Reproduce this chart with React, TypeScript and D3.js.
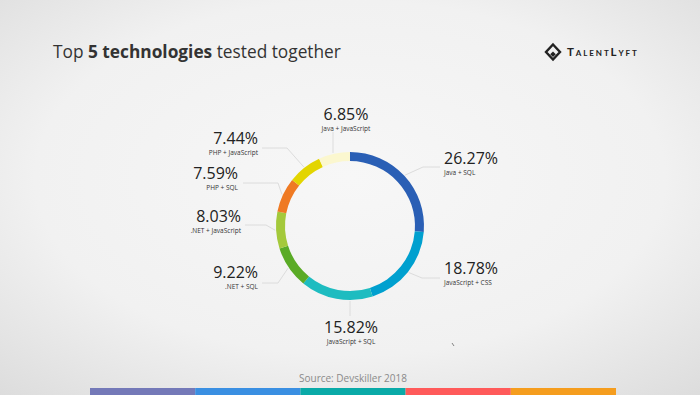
import React, { useRef, useEffect } from 'react';
import * as d3 from 'd3';

// Slices, clockwise from 12 o'clock
const combos = [
  'Java + SQL',
  'JavaScript + CSS',
  'JavaScript + SQL',
  '.NET + SQL',
  '.NET + JavaScript',
  'PHP + SQL',
  'PHP + JavaScript',
  'Java + JavaScript',
];
const shares = [26.27, 18.78, 15.82, 9.22, 8.03, 7.59, 7.44, 6.85];
const sliceColors = [
  '#2a5fb5',
  '#00a0cf',
  '#1ebcc0',
  '#5aab26',
  '#a4c93b',
  '#ef7a23',
  '#e3d500',
  '#fbf7cf',
];

// where each label sits and how its leader line bends
type LabelSpot = {
  x: number;
  y: number;
  anchor: 'start' | 'middle' | 'end';
  lineY: number;
  elbowX: number;
  endX: number;
  vertical?: boolean;
};
const labelSpots: LabelSpot[] = [
  { x: 444, y: 165, anchor: 'start', lineY: 167, elbowX: 423, endX: 440 },
  { x: 444, y: 275, anchor: 'start', lineY: 278, elbowX: 422, endX: 440 },
  { x: 351, y: 334, anchor: 'middle', lineY: 316, elbowX: 350, endX: 350, vertical: true },
  { x: 258, y: 279, anchor: 'end', lineY: 283, elbowX: 278, endX: 262 },
  { x: 241, y: 223, anchor: 'end', lineY: 225, elbowX: 266, endX: 245 },
  { x: 238, y: 180, anchor: 'end', lineY: 183, elbowX: 278, endX: 243 },
  { x: 258, y: 145, anchor: 'end', lineY: 148, elbowX: 287, endX: 262 },
  { x: 346, y: 121, anchor: 'middle', lineY: 132, elbowX: 333, endX: 333, vertical: true },
];

const stripeColors = ['#7479b8', '#3a8fe2', '#0aaaa8', '#ff5a5a', '#f59d1e'];

const App: React.FC = () => {
  const svgRef = useRef<SVGSVGElement | null>(null);

  useEffect(() => {
    if (!svgRef.current) return;
    d3.select(svgRef.current).selectAll('*').remove();

    const width = 700;
    const height = 395;
    const font = "'Open Sans', sans-serif";

    const svg = d3
      .select(svgRef.current)
      .attr('width', width)
      .attr('height', height);

    // soft grey backdrop
    const defs = svg.append('defs');
    const grad = defs
      .append('radialGradient')
      .attr('id', 'bg')
      .attr('cx', '50%')
      .attr('cy', '45%')
      .attr('r', '75%');
    grad.append('stop').attr('offset', '0%').attr('stop-color', '#f7f7f7');
    grad.append('stop').attr('offset', '60%').attr('stop-color', '#f1f1f1');
    grad.append('stop').attr('offset', '100%').attr('stop-color', '#dcdcdc');
    svg
      .append('rect')
      .attr('width', width)
      .attr('height', height)
      .attr('fill', 'url(#bg)');

    // title
    const title = svg
      .append('text')
      .attr('x', 53)
      .attr('y', 58)
      .attr('font-family', font)
      .attr('font-size', 17.3)
      .attr('fill', '#333');
    title.append('tspan').text('Top ');
    title.append('tspan').attr('font-weight', 700).text('5 technologies');
    title.append('tspan').text(' tested together');

    // logo
    const logo = svg.append('g').attr('transform', 'translate(553,52)');
    logo
      .append('path')
      .attr('d', 'M0,-7.5 L7,0 L0,7.5 L-7,0 Z')
      .attr('fill', 'none')
      .attr('stroke', '#222')
      .attr('stroke-width', 2.4);
    logo
      .append('path')
      .attr('d', 'M0,-0.5 L2.8,2.3 L0,5.1 L-2.8,2.3 Z')
      .attr('fill', '#222');
    logo
      .append('text')
      .attr('x', 14)
      .attr('y', 4)
      .attr('font-family', 'Lato, sans-serif')
      .attr('font-size', 11.5)
      .attr('font-weight', 700)
      .attr('letter-spacing', 1.9)
      .style('font-variant', 'small-caps')
      .attr('fill', '#222')
      .text('TalentLyft');

    // donut
    const cx = 350;
    const cy = 226;
    const outerR = 74;
    const innerR = 65;

    const pie = d3
      .pie<number>()
      .sort(null)
      .value((d) => d);
    const arcs = pie(shares);
    const arc = d3
      .arc<d3.PieArcDatum<number>>()
      .innerRadius(innerR)
      .outerRadius(outerR);

    const g = svg.append('g').attr('transform', `translate(${cx},${cy})`);
    g.selectAll('path')
      .data(arcs)
      .join('path')
      .attr('d', arc)
      .attr('fill', (_, i) => sliceColors[i]);

    // leader lines and labels
    const leaderR = outerR + 1;
    arcs.forEach((a, i) => {
      const spot = labelSpots[i];
      let pts: [number, number][];
      if (spot.vertical) {
        const dx = spot.elbowX - cx;
        const dy = Math.sqrt(leaderR * leaderR - dx * dx);
        const sy = spot.lineY < cy ? cy - dy : cy + dy;
        pts = [
          [spot.elbowX, sy],
          [spot.elbowX, spot.lineY],
        ];
      } else {
        const mid = (a.startAngle + a.endAngle) / 2;
        pts = [
          [cx + leaderR * Math.sin(mid), cy - leaderR * Math.cos(mid)],
          [spot.elbowX, spot.lineY],
          [spot.endX, spot.lineY],
        ];
      }
      svg
        .append('path')
        .attr('d', d3.line()(pts))
        .attr('fill', 'none')
        .attr('stroke', '#dcdcdc')
        .attr('stroke-width', 1);

      svg
        .append('text')
        .attr('x', spot.x)
        .attr('y', spot.y - 1.5)
        .attr('text-anchor', spot.anchor)
        .attr('font-family', font)
        .attr('font-size', 16)
        .attr('fill', '#222')
        .text(`${d3.format('.2f')(a.data)}%`);
      svg
        .append('text')
        .attr('x', spot.x)
        .attr('y', spot.y + 10.4)
        .attr('text-anchor', spot.anchor)
        .attr('font-family', font)
        .attr('font-size', 6.5)
        .attr('fill', '#333')
        .text(combos[i]);
    });

    // stray mark
    svg
      .append('path')
      .attr('d', 'M452,343 L454,346')
      .attr('stroke', '#666')
      .attr('stroke-width', 0.8);

    // source
    svg
      .append('text')
      .attr('x', 353)
      .attr('y', 382)
      .attr('text-anchor', 'middle')
      .attr('font-family', font)
      .attr('font-size', 10)
      .attr('fill', '#8a8a8a')
      .text('Source: Devskiller 2018');

    // colour stripe at the bottom
    const stripe = d3
      .scaleBand<number>()
      .domain(d3.range(stripeColors.length))
      .range([90, 616]);
    svg
      .selectAll('rect.stripe')
      .data(stripeColors)
      .join('rect')
      .attr('class', 'stripe')
      .attr('x', (_, i) => stripe(i) as number)
      .attr('y', 388)
      .attr('width', stripe.bandwidth())
      .attr('height', 7)
      .attr('fill', (d) => d);
  }, []);

  return (
    <svg
      ref={svgRef}
      style={{ position: 'absolute', left: 0, top: 0, display: 'block' }}
    ></svg>
  );
};

export default App;
